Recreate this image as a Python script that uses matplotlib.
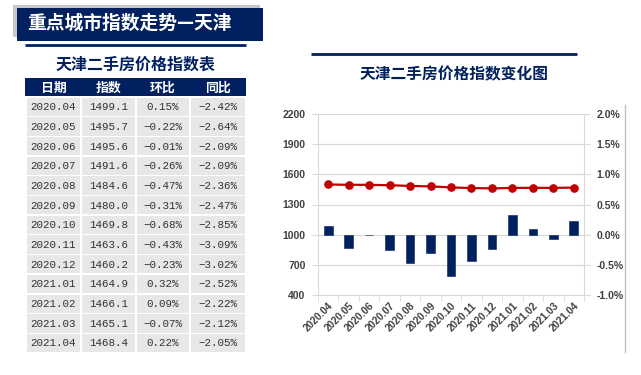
import matplotlib
matplotlib.use("Agg")
import matplotlib.pyplot as plt
from matplotlib.patches import Rectangle
import numpy as np

plt.rcParams['font.family'] = ['Noto Sans CJK SC', 'DejaVu Sans']

# ---------------- data ----------------
dates = ['2020.04', '2020.05', '2020.06', '2020.07', '2020.08', '2020.09', '2020.10',
         '2020.11', '2020.12', '2021.01', '2021.02', '2021.03', '2021.04']
index_vals = [1499.1, 1495.7, 1495.6, 1491.6, 1484.6, 1480.0, 1469.8,
              1463.6, 1460.2, 1464.9, 1466.1, 1465.1, 1468.4]
mom = [0.15, -0.22, -0.01, -0.26, -0.47, -0.31, -0.68, -0.43, -0.23, 0.32, 0.09, -0.07, 0.22]
yoy = [-2.42, -2.64, -2.09, -2.09, -2.36, -2.47, -2.85, -3.09, -3.02, -2.52, -2.22, -2.12, -2.05]
headers = ['日期', '指数', '环比', '同比']
banner_title = '重点城市指数走势—天津'
table_title = '天津二手房价格指数表'
chart_title = '天津二手房价格指数变化图'
left_ticks = [400, 700, 1000, 1300, 1600, 1900, 2200]
right_ticks = [-1.0, -0.5, 0.0, 0.5, 1.0, 1.5, 2.0]

NAVY = '#002060'
RED = '#C00000'
W, H = 641, 375

fig = plt.figure(figsize=(W / 100, H / 100), dpi=100)
fig.patch.set_facecolor('white')

# overlay in pixel coordinates
ov = fig.add_axes([0, 0, 1, 1])
ov.set_xlim(0, W)
ov.set_ylim(H, 0)
ov.axis('off')

# banner with shadow
ov.add_patch(Rectangle((13, 5), 247, 32, color='#c8c8c8', lw=0))
ov.add_patch(Rectangle((17, 8), 246, 33, color=NAVY, lw=0))
ov.text(27, 23.5, banner_title, color='white', fontsize=13.5, fontweight='bold',
        ha='left', va='center')
ov.plot([25, 246], [45, 45], color=NAVY, lw=2, solid_capstyle='butt')

# table title
ov.text(135.5, 65, table_title, color=NAVY, fontsize=11.5, fontweight='bold',
        ha='center', va='center')

# table header
ov.add_patch(Rectangle((25, 78), 221, 18, color=NAVY, lw=0))
col_edges = [(27, 80), (82, 135), (137, 189), (191, 245)]
col_centers = [(a + b) / 2 for a, b in col_edges]
for c, h in zip(col_centers, headers):
    ov.text(c, 87.5, h, color='white', fontsize=9.3, fontweight='bold',
            ha='center', va='center')

# table rows
row_top0 = 97.5
pitch = 19.7
for i in range(len(dates)):
    top = row_top0 + i * pitch
    vals = [dates[i], f'{index_vals[i]:.1f}', f'{mom[i]:.2f}%'.replace('-', '−'),
            f'{yoy[i]:.2f}%'.replace('-', '−')]
    for (a, b), v in zip(col_edges, vals):
        ov.add_patch(Rectangle((a, top), b - a, 18.3, color='#e7e7e7', lw=0))
        ov.text((a + b) / 2, top + 9.6, v, color='#333333', fontsize=7.8,
                family=['Liberation Mono', 'DejaVu Sans'], ha='center', va='center')

# chart heading line and title
ov.plot([311, 577], [54, 54], color=NAVY, lw=2, solid_capstyle='butt')
ov.text(454, 74, chart_title, color=NAVY, fontsize=11.3, fontweight='bold',
        ha='center', va='center')
# picture border line on the right
ov.plot([624.5, 624.5], [105, 352], color='#bfbfbf', lw=1)

# ---------------- chart ----------------
L, R, T, B = 318, 584, 114, 295
ax = fig.add_axes([L / W, (H - B) / H, (R - L) / W, (B - T) / H])
ax2 = ax.twinx()
x = np.arange(len(dates))

ax.set_zorder(ax2.get_zorder() + 1)
ax.patch.set_visible(False)

ax2.bar(x, mom, width=0.42, color=NAVY, edgecolor=NAVY, linewidth=0.4, zorder=3)
ax2.set_ylim(-1.0, 2.0)
ax2.set_yticks(right_ticks)
ax2.set_yticklabels([f'{v:.1f}%' for v in right_ticks])

ax.plot(x, index_vals, color=RED, lw=1.6, marker='o', markersize=5.2,
        markerfacecolor=RED, markeredgecolor=RED, zorder=4)
ax.set_ylim(400, 2200)
ax.set_yticks(left_ticks)
ax.set_xlim(-0.5, len(dates) - 0.5)
ax.set_xticks(x)
ax.set_xticklabels(dates, rotation=45, ha='right', rotation_mode='anchor')
ax.set_xticks(np.arange(-0.5, len(dates), 1.0), minor=True)

for a in (ax, ax2):
    for s in a.spines.values():
        s.set_visible(False)

ax2.yaxis.grid(True, color='#d9d9d9', lw=0.9, zorder=0)
ax2.set_axisbelow(True)
for side in ('right', 'left', 'bottom'):
    ax2.spines[side].set_visible(True)
    ax2.spines[side].set_color('#d9d9d9')

ax.tick_params(axis='y', length=4, color='#d9d9d9', labelsize=7.5, labelcolor='#404040', pad=5)
ax2.tick_params(axis='y', length=4, color='#d9d9d9', labelsize=7.5, labelcolor='#404040', pad=5)
ax.tick_params(axis='x', which='major', length=0, labelsize=7.3, labelcolor='#404040', pad=4)
ax.tick_params(axis='x', which='minor', length=4, color='#d9d9d9')
ax2.tick_params(axis='x', length=0)

for lab in ax.get_yticklabels() + ax2.get_yticklabels() + ax.get_xticklabels():
    lab.set_fontweight('bold')
    lab.set_family(['Liberation Sans', 'DejaVu Sans'])

fig.savefig('out.png', dpi=100)
